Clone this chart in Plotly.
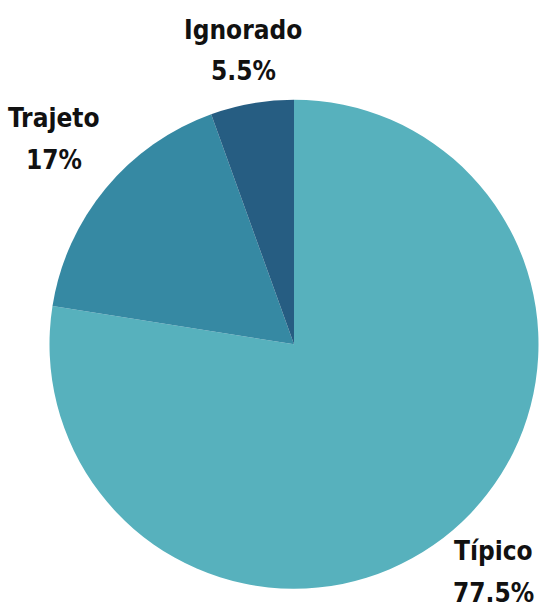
import plotly.graph_objects as go

labels = ["Típico", "Trajeto", "Ignorado"]
values = [77.5, 17, 5.5]
colors = ["#57b1bd", "#3689a3", "#265d82"]
value_text = ["77.5%", "17%", "5.5%"]

W, H = 539, 608
cx, cy, r = 294, 344.25, 244.5

# label centres in pixels (x, name line middle y, value line middle y)
label_px = [(493, 551, 593), (54, 118, 160), (243, 30, 71)]

fig = go.Figure(go.Pie(
    labels=labels, values=values, sort=False, direction="clockwise", rotation=0,
    marker=dict(colors=colors, line=dict(width=0)),
    textinfo="none", hoverinfo="label+percent", showlegend=False,
    domain=dict(x=[(cx - r) / W, (cx + r) / W], y=[1 - (cy + r) / H, 1 - (cy - r) / H]),
))

font = dict(family="DejaVu Sans Condensed", size=26, color="#111111", weight="bold")
for lab, vt, (px, py1, py2) in zip(labels, value_text, label_px):
    for txt, py in ((lab, py1), (vt, py2)):
        fig.add_annotation(
            x=px / W, y=1 - py / H, xref="paper", yref="paper",
            xanchor="center", yanchor="middle", text=txt, showarrow=False,
            font=font,
        )

fig.update_layout(width=W, height=H, margin=dict(l=0, r=0, t=0, b=0),
                  paper_bgcolor="white", plot_bgcolor="white")
fig.write_html("out.html", config={"displayModeBar": False},
               post_script="document.body.style.margin='0';document.body.style.overflow='hidden';")
